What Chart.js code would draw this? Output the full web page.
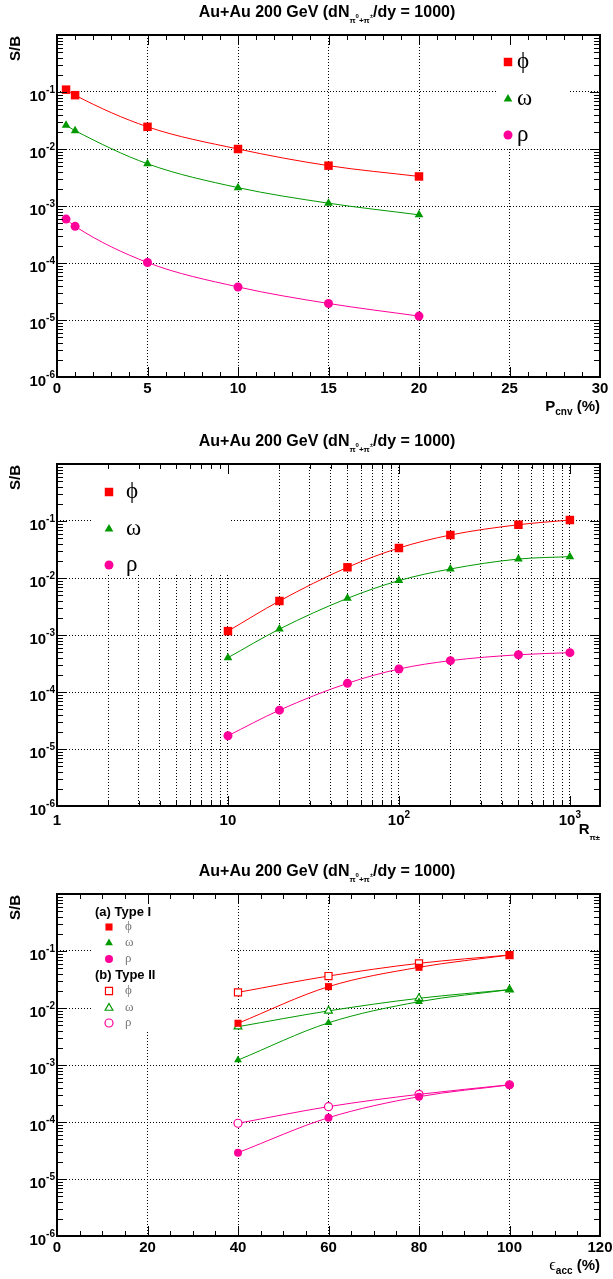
<!DOCTYPE html>
<html lang="en">
<head>
    <meta charset="UTF-8">
    <title>S/B - Au+Au 200 GeV</title>
    <script src="https://cdn.jsdelivr.net/npm/chart.js"></script>
    <style>
        html, body { margin: 0; padding: 0; background: #fff; overflow: hidden; }
        .panel { position: absolute; left: 0; width: 613px; }
    </style>
</head>
<body>
    <div class="panel" style="top:0;height:426px"><canvas id="pcnvChart"></canvas></div>
    <div class="panel" style="top:426px;height:426px"><canvas id="rpiChart"></canvas></div>
    <div class="panel" style="top:852px;height:427px"><canvas id="eaccChart"></canvas></div>

    <script>
        const SANS = "'Liberation Sans', Arial, Helvetica, sans-serif";
        const SERIF = "'Liberation Serif', 'DejaVu Serif', serif";
        const RED = '#ff0000', GREEN = '#009900', PINK = '#ff0099';

        // Panel 1: S/B vs conversion probability
        const pcnvValues = [0.5, 1, 5, 10, 15, 20];
        const phiPcnv = [0.11, 0.088, 0.0245, 0.0100, 0.0051, 0.0033];
        const omegaPcnv = [0.026, 0.021, 0.0055, 0.0021, 0.00112, 0.00070];
        const rhoPcnv = [5.9e-4, 4.4e-4, 1.02e-4, 3.8e-5, 1.95e-5, 1.17e-5];

        // Panel 2: S/B vs pion rejection
        const rpiValues = [10, 20, 50, 100, 200, 500, 1000];
        const phiRpi = [1.17e-3, 3.95e-3, 0.0154, 0.0336, 0.0568, 0.086, 0.104];
        const omegaRpi = [4.0e-4, 1.27e-3, 4.4e-3, 9.0e-3, 0.0144, 0.0215, 0.0237];
        const rhoRpi = [1.71e-5, 4.8e-5, 1.42e-4, 2.53e-4, 3.55e-4, 4.5e-4, 4.9e-4];

        // Panel 3: S/B vs acceptance, two detector types
        const eaccValues = [40, 60, 80, 100];
        const phiTypeI = [5.4e-3, 0.0237, 0.0518, 0.085];
        const omegaTypeI = [1.22e-3, 5.5e-3, 0.0129, 0.021];
        const rhoTypeI = [2.9e-5, 1.19e-4, 2.78e-4, 4.47e-4];
        const phiTypeII = [0.0188, 0.0364, 0.0608, 0.085];
        const omegaTypeII = [4.7e-3, 8.9e-3, 0.0148, 0.021];
        const rhoTypeII = [9.5e-5, 1.86e-4, 3.06e-4, 4.5e-4];

        // Tick labels
        const yDecades = [1e-6, 1e-5, 1e-4, 1e-3, 1e-2, 1e-1];
        const yDecadeExps = ['-6', '-5', '-4', '-3', '-2', '-1'];
        const pcnvTicks = [0, 5, 10, 15, 20, 25, 30];
        const eaccTicks = [0, 20, 40, 60, 80, 100, 120];
        const rpiTicks = [1, 10, 100, 1000];
        const rpiTickExps = ['', '', '2', '3'];

        function pts(xs, ys) {
            return xs.map((x, i) => ({ x: x, y: ys[i] }));
        }

        function series(label, xs, ys, color, style, radius, open) {
            return {
                label: label,
                data: pts(xs, ys),
                borderColor: color,
                backgroundColor: open ? '#fff' : color,
                pointBackgroundColor: open ? '#fff' : color,
                pointBorderColor: color,
                pointBorderWidth: open ? 1.2 : 0,
                pointStyle: style,
                pointRadius: radius,
                pointHoverRadius: radius,
                borderWidth: 1,
                cubicInterpolationMode: 'monotone',
                fill: false
            };
        }

        function logTicks(min, max) {
            const out = [];
            for (let e = Math.floor(Math.log10(min)); e <= Math.ceil(Math.log10(max)); e++) {
                for (let k = 1; k <= 9; k++) {
                    const v = k * Math.pow(10, e);
                    if (v >= min * 0.999 && v <= max * 1.001) out.push({ v: v, major: k === 1 });
                }
            }
            return out;
        }

        function linTicks(max, step, minorStep) {
            const out = [];
            for (let v = 0; v <= max + 1e-9; v += minorStep) {
                out.push({ v: v, major: Math.abs(v / step - Math.round(v / step)) < 1e-6 });
            }
            return out;
        }

        const gridStyle = { color: '#000', lineWidth: 1, drawTicks: false };
        const gridBorder = { display: false, dash: [1, 2] };

        function yScale() {
            return {
                type: 'logarithmic', min: 1e-6, max: 1,
                afterBuildTicks: s => { s.ticks = yDecades.concat([1]).map(v => ({ value: v })); },
                afterFit: s => { s.width = 0; },
                ticks: { display: false },
                grid: gridStyle,
                border: gridBorder
            };
        }

        function linX(max, ticks) {
            return {
                type: 'linear', min: 0, max: max,
                afterBuildTicks: s => { s.ticks = ticks.map(v => ({ value: v })); },
                afterFit: s => { s.height = 0; },
                ticks: { display: false },
                grid: gridStyle,
                border: gridBorder
            };
        }

        // draw a run of text pieces with different fonts / baseline shifts
        function drawRich(ctx, parts, x, y, align) {
            let w = 0;
            parts.forEach(p => { ctx.font = p.f; p.w = ctx.measureText(p.t).width; w += p.w; });
            let cx = align === 'right' ? x - w : align === 'center' ? x - w / 2 : x;
            ctx.textAlign = 'left';
            ctx.textBaseline = 'alphabetic';
            parts.forEach(p => { ctx.font = p.f; ctx.fillText(p.t, cx, y + (p.dy || 0)); cx += p.w; });
        }

        function marker(ctx, style, r, x, y, fill, stroke, bw) {
            ctx.save();
            ctx.fillStyle = fill;
            ctx.strokeStyle = stroke;
            ctx.lineWidth = bw;
            if (Chart.helpers && Chart.helpers.drawPoint) {
                Chart.helpers.drawPoint(ctx, { pointStyle: style, radius: r, rotation: 0, borderWidth: bw }, x, y);
            } else {
                ctx.beginPath();
                if (style === 'rect') {
                    const s = r * Math.SQRT1_2;
                    ctx.rect(x - s, y - s, 2 * s, 2 * s);
                } else if (style === 'triangle') {
                    for (let i = 0; i < 3; i++) {
                        const a = i * 2 * Math.PI / 3;
                        ctx[i ? 'lineTo' : 'moveTo'](x + Math.sin(a) * r, y - Math.cos(a) * r);
                    }
                    ctx.closePath();
                } else {
                    ctx.arc(x, y, r, 0, 2 * Math.PI);
                }
                ctx.fill();
                if (bw > 0) ctx.stroke();
            }
            ctx.restore();
        }

        const rootFrame = {
            id: 'rootFrame',
            beforeDatasetsDraw(chart, args, o) {
                const a = chart.chartArea, ctx = chart.ctx, b = o.legendBox;
                ctx.save();
                ctx.fillStyle = '#fff';
                ctx.fillRect(b[0], a.top + b[1], b[2] - b[0], b[3] - b[1]);
                ctx.restore();
            },
            afterDraw(chart, args, o) {
                const ctx = chart.ctx, a = chart.chartArea;
                const xs = chart.scales.x, ys = chart.scales.y;
                ctx.save();

                // frame
                ctx.strokeStyle = '#000';
                ctx.lineWidth = 2;
                ctx.strokeRect(a.left, a.top, a.right - a.left, a.bottom - a.top);

                // tick marks on all four sides
                ctx.lineWidth = 1;
                ctx.beginPath();
                o.xTicks.forEach(t => {
                    const p = Math.round(xs.getPixelForValue(t.v)) + 0.5, len = t.major ? 10 : 5;
                    ctx.moveTo(p, a.bottom); ctx.lineTo(p, a.bottom - len);
                    ctx.moveTo(p, a.top); ctx.lineTo(p, a.top + len);
                });
                logTicks(1e-6, 1).forEach(t => {
                    const p = Math.round(ys.getPixelForValue(t.v)) + 0.5, len = t.major ? 10 : 6;
                    ctx.moveTo(a.left, p); ctx.lineTo(a.left + len, p);
                    ctx.moveTo(a.right, p); ctx.lineTo(a.right - len, p);
                });
                ctx.stroke();

                ctx.fillStyle = '#000';
                const big = 'bold 15px ' + SANS, small = 'bold 10px ' + SANS;

                // y labels 10^-n
                yDecades.forEach((v, i) => {
                    const p = ys.getPixelForValue(v);
                    ctx.font = small;
                    const we = ctx.measureText(yDecadeExps[i]).width;
                    ctx.font = big;
                    const wb = ctx.measureText('10').width;
                    const xr = a.left - 2;
                    ctx.textAlign = 'left';
                    ctx.textBaseline = 'middle';
                    ctx.fillText('10', xr - we - wb, p + 5);
                    ctx.font = small;
                    ctx.fillText(yDecadeExps[i], xr - we, p - 2);
                });

                // x labels
                o.xLabels.forEach((v, i) => {
                    const p = xs.getPixelForValue(v);
                    const base = o.xBase ? o.xBase[i] : String(v);
                    const exp = o.xExps ? o.xExps[i] : '';
                    const parts = [{ t: base, f: big, dy: 0 }];
                    if (exp) parts.push({ t: exp, f: small, dy: -7 });
                    drawRich(ctx, parts, p, a.bottom + o.xLabelDy, 'center');
                });

                // titles
                const tBig = 'bold 16px ' + SANS;
                drawRich(ctx, [
                    { t: 'Au+Au 200 GeV (dN', f: tBig },
                    { t: 'π', f: 'bold 8px ' + SANS, dy: 6 },
                    { t: '0', f: 'bold 6px ' + SANS, dy: 1 },
                    { t: '+π', f: 'bold 8px ' + SANS, dy: 6 },
                    { t: '±', f: 'bold 6px ' + SANS, dy: 1 },
                    { t: '/dy = 1000)', f: tBig }
                ], 327, a.top - 18, 'center');

                drawRich(ctx, o.xTitle, 600, a.bottom + o.xTitleDy, 'right');

                ctx.save();
                ctx.translate(20, a.top + 1);
                ctx.rotate(-Math.PI / 2);
                drawRich(ctx, [{ t: 'S/B', f: big }], 0, 0, 'right');
                ctx.restore();

                // legend
                o.legend.forEach(it => {
                    const y = a.top + it.dy;
                    if (it.heading) {
                        ctx.fillStyle = '#000';
                        ctx.font = 'bold 13px ' + SANS;
                        ctx.textAlign = 'left';
                        ctx.textBaseline = 'middle';
                        ctx.fillText(it.heading, it.x, y);
                        return;
                    }
                    const ds = chart.data.datasets[it.ds];
                    marker(ctx, ds.pointStyle, ds.pointRadius, it.x, y,
                        ds.pointBackgroundColor, ds.pointBorderColor, ds.pointBorderWidth);
                    ctx.fillStyle = o.greekColor;
                    ctx.font = o.greekFont;
                    ctx.textAlign = 'left';
                    ctx.textBaseline = 'middle';
                    ctx.fillText(it.text, it.tx, y);
                });

                ctx.restore();
            }
        };

        function baseOptions(xScale, pad, frameOpts) {
            return {
                responsive: true,
                maintainAspectRatio: false,
                animation: false,
                events: [],
                layout: { autoPadding: false, padding: pad },
                scales: { x: xScale, y: yScale() },
                plugins: {
                    legend: { display: false },
                    tooltip: { enabled: false },
                    rootFrame: frameOpts
                }
            };
        }

        // Panel 1
        new Chart(document.getElementById('pcnvChart'), {
            type: 'line',
            data: {
                datasets: [
                    series('phi', pcnvValues, phiPcnv, RED, 'rect', 6, false),
                    series('omega', pcnvValues, omegaPcnv, GREEN, 'triangle', 5, false),
                    series('rho', pcnvValues, rhoPcnv, PINK, 'circle', 4.5, false)
                ]
            },
            options: baseOptions(linX(30, pcnvTicks), { left: 57, right: 13, top: 35, bottom: 49 }, {
                xTicks: linTicks(30, 5, 1),
                xLabels: pcnvTicks,
                xLabelDy: 16,
                xTitle: [
                    { t: 'P', f: 'bold 15px ' + SANS },
                    { t: 'cnv', f: 'bold 10px ' + SANS, dy: 4 },
                    { t: ' (%)', f: 'bold 15px ' + SANS }
                ],
                xTitleDy: 34,
                legendBox: [498, 2, 568, 112],
                greekFont: '23px ' + SERIF,
                greekColor: '#000',
                legend: [
                    { ds: 0, x: 508, tx: 517, dy: 27, text: 'ϕ' },
                    { ds: 1, x: 508, tx: 517, dy: 64, text: 'ω' },
                    { ds: 2, x: 508, tx: 517, dy: 100, text: 'ρ' }
                ]
            }),
            plugins: [rootFrame]
        });

        // Panel 2
        const rpiX = {
            type: 'logarithmic', min: 1, max: 1500,
            afterBuildTicks: s => { s.ticks = logTicks(1, 1500).map(t => ({ value: t.v })); },
            afterFit: s => { s.height = 0; },
            ticks: { display: false },
            grid: gridStyle,
            border: gridBorder
        };
        new Chart(document.getElementById('rpiChart'), {
            type: 'line',
            data: {
                datasets: [
                    series('phi', rpiValues, phiRpi, RED, 'rect', 6, false),
                    series('omega', rpiValues, omegaRpi, GREEN, 'triangle', 5, false),
                    series('rho', rpiValues, rhoRpi, PINK, 'circle', 4.5, false)
                ]
            },
            options: baseOptions(rpiX, { left: 57, right: 13, top: 38, bottom: 46 }, {
                xTicks: logTicks(1, 1500),
                xLabels: rpiTicks,
                xBase: ['1', '10', '10', '10'],
                xExps: rpiTickExps,
                xLabelDy: 19,
                xTitle: [
                    { t: 'R', f: 'bold 15px ' + SANS },
                    { t: 'π±', f: 'bold 8px ' + SANS, dy: 6 }
                ],
                xTitleDy: 28,
                legendBox: [92, 2, 229, 111],
                greekFont: '23px ' + SERIF,
                greekColor: '#000',
                legend: [
                    { ds: 0, x: 109, tx: 126, dy: 28, text: 'ϕ' },
                    { ds: 1, x: 109, tx: 126, dy: 65, text: 'ω' },
                    { ds: 2, x: 109, tx: 126, dy: 101, text: 'ρ' }
                ]
            }),
            plugins: [rootFrame]
        });

        // Panel 3
        new Chart(document.getElementById('eaccChart'), {
            type: 'line',
            data: {
                datasets: [
                    series('phi I', eaccValues, phiTypeI, RED, 'rect', 5, false),
                    series('omega I', eaccValues, omegaTypeI, GREEN, 'triangle', 4.5, false),
                    series('rho I', eaccValues, rhoTypeI, PINK, 'circle', 4, false),
                    series('phi II', eaccValues, phiTypeII, RED, 'rect', 5, true),
                    series('omega II', eaccValues, omegaTypeII, GREEN, 'triangle', 4.5, true),
                    series('rho II', eaccValues, rhoTypeII, PINK, 'circle', 4, true)
                ]
            },
            options: baseOptions(linX(120, eaccTicks), { left: 57, right: 13, top: 42, bottom: 43 }, {
                xTicks: linTicks(120, 20, 5),
                xLabels: eaccTicks,
                xLabelDy: 16,
                xTitle: [
                    { t: 'ϵ', f: '16px ' + SERIF },
                    { t: 'acc', f: 'bold 10px ' + SANS, dy: 4 },
                    { t: ' (%)', f: 'bold 15px ' + SANS }
                ],
                xTitleDy: 34,
                legendBox: [92, 2, 230, 136],
                greekFont: '13px ' + SERIF,
                greekColor: '#777',
                legend: [
                    { heading: '(a) Type I', x: 95, dy: 18 },
                    { ds: 0, x: 109, tx: 125, dy: 33, text: 'ϕ' },
                    { ds: 1, x: 109, tx: 125, dy: 49, text: 'ω' },
                    { ds: 2, x: 109, tx: 125, dy: 65, text: 'ρ' },
                    { heading: '(b) Type II', x: 95, dy: 81 },
                    { ds: 3, x: 109, tx: 125, dy: 97, text: 'ϕ' },
                    { ds: 4, x: 109, tx: 125, dy: 114, text: 'ω' },
                    { ds: 5, x: 109, tx: 125, dy: 129, text: 'ρ' }
                ]
            }),
            plugins: [rootFrame]
        });
    </script>
</body>
</html>
